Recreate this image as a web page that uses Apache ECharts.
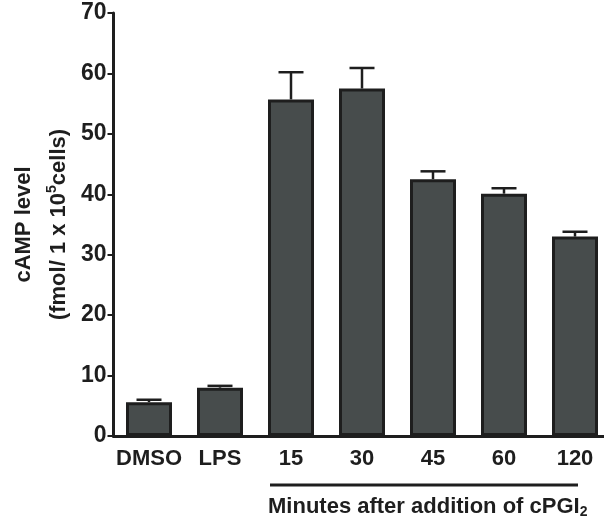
<!DOCTYPE html>
<html>
<head>
<meta charset="utf-8">
<script src="https://cdn.jsdelivr.net/npm/echarts@6/dist/echarts.min.js"></script>
<style>
  html, body { margin: 0; padding: 0; background: #fff; }
  #c { width: 604px; height: 525px; }
</style>
</head>
<body>
<div id="c"></div>
<script>
// data
var categories = ['DMSO', 'LPS', '15', '30', '45', '60', '120'];
var means = [5.6, 8.0, 55.7, 57.5, 42.5, 40.1, 33.0];
var upper = [6.0, 8.3, 60.2, 60.9, 43.8, 41.0, 33.8];
var yTicks = [0, 10, 20, 30, 40, 50, 60, 70];

var FONT = '"Liberation Sans", Arial, sans-serif';
var INK = '#1e1e1e';

var errData = categories.map(function (c, i) { return [i, means[i], upper[i]]; });

var chart = echarts.init(document.getElementById('c'));
chart.setOption({
  animation: false,
  backgroundColor: '#fff',
  grid: { left: 113.5, top: 13, bottom: 89, width: 497, containLabel: false, outerBoundsMode: 'none' },
  xAxis: {
    type: 'category',
    data: categories,
    axisLine: { lineStyle: { color: INK, width: 3 } },
    axisTick: { alignWithLabel: true, length: 7, lineStyle: { color: INK, width: 2 } },
    axisLabel: { interval: 0, color: INK, fontFamily: FONT, fontWeight: 'bold', fontSize: 22, margin: 12 }
  },
  yAxis: {
    type: 'value',
    min: yTicks[0],
    max: yTicks[yTicks.length - 1],
    interval: 10,
    splitLine: { show: false },
    axisLine: { show: true, lineStyle: { color: INK, width: 3 } },
    axisTick: { show: true, length: 6, lineStyle: { color: INK, width: 2 } },
    axisLabel: { color: INK, fontFamily: FONT, fontWeight: 'bold', fontSize: 23, margin: 7 },
    name: '{a|cAMP level}\n{a|(fmol/ 1 x 10}{sup|5}{a|cells)}',
    nameLocation: 'middle',
    nameRotate: 90,
    nameGap: 36,
    nameTextStyle: {
      rich: {
        a: { fontFamily: FONT, fontWeight: 'bold', fontSize: 22, color: INK, lineHeight: 35 },
        sup: { fontFamily: FONT, fontWeight: 'bold', fontSize: 14, color: INK, padding: [0, 0, 14, 0] }
      }
    }
  },
  series: [
    {
      type: 'bar',
      data: means,
      barWidth: 46,
      itemStyle: { color: '#474c4c', borderColor: INK, borderWidth: 3 },
      z: 2
    },
    {
      type: 'custom',
      data: errData,
      z: 3,
      renderItem: function (params, api) {
        var top = api.coord([api.value(0), api.value(2)]);
        var base = api.coord([api.value(0), api.value(1)]);
        var half = 12.5;
        var st = { stroke: INK, lineWidth: 2.5 };
        return {
          type: 'group',
          children: [
            { type: 'line', shape: { x1: top[0], y1: base[1], x2: top[0], y2: top[1] }, style: st },
            { type: 'line', shape: { x1: top[0] - half, y1: top[1], x2: top[0] + half, y2: top[1] }, style: st }
          ]
        };
      }
    }
  ],
  graphic: [
    {
      type: 'line',
      shape: { x1: 270, y1: 485, x2: 578, y2: 485 },
      style: { stroke: INK, lineWidth: 3 }
    },
    {
      type: 'text',
      left: 268,
      top: 496,
      style: {
        text: '{a|Minutes after addition of cPGI}{sub|2}',
        rich: {
          a: { fontFamily: FONT, fontWeight: 'bold', fontSize: 22, fill: INK },
          sub: { fontFamily: FONT, fontWeight: 'bold', fontSize: 14, fill: INK, padding: [11, 0, 0, 0] }
        }
      }
    }
  ]
});
</script>
</body>
</html>
